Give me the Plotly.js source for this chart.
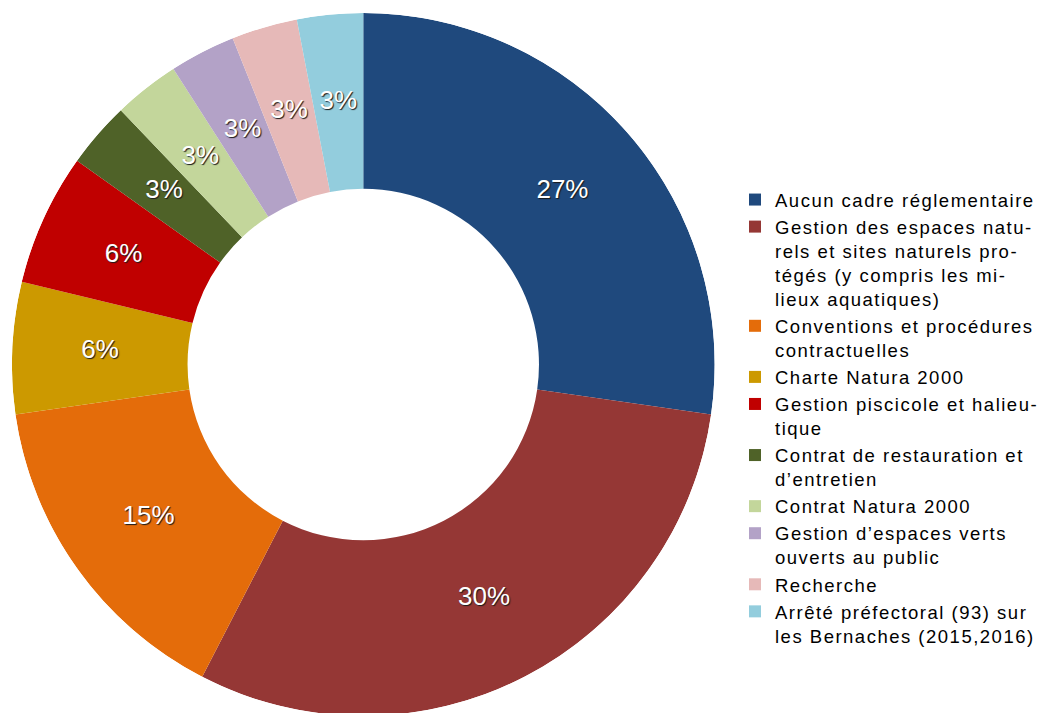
<!DOCTYPE html>
<html>
<head>
<meta charset="utf-8">
<script src="https://cdn.plot.ly/plotly-3.0.1.min.js"></script>
<style>
html,body{margin:0;padding:0;background:#fff;overflow:hidden;}
#chart{width:1044px;height:720px;}
.legendtext{letter-spacing:1.5px;}
</style>
</head>
<body>
<div id="chart"></div>
<script>
const categories = [
  "Aucun cadre réglementaire",
  "Gestion des espaces natu-<br>rels et sites naturels pro-<br>tégés (y compris les mi-<br>lieux aquatiques)",
  "Conventions et procédures<br>contractuelles",
  "Charte Natura 2000",
  "Gestion piscicole et halieu-<br>tique",
  "Contrat de restauration et<br>d’entretien",
  "Contrat Natura 2000",
  "Gestion d’espaces verts<br>ouverts au public",
  "Recherche",
  "Arrêté préfectoral (93) sur<br>les Bernaches (2015,2016)"
];
const counts = [9, 10, 5, 2, 2, 1, 1, 1, 1, 1];
const colors = ["#1f497d", "#953735", "#e46c0a", "#cc9900", "#c00000",
                "#4f6228", "#c3d69b", "#b3a2c7", "#e6b9b8", "#93cddd"];

const domainX = [0.01149, 0.69253];
const domainY = [0, 0.9875];
const holeFrac = 0.5;

// slice geometry derived from the data
const total = counts.reduce((a, b) => a + b, 0);
let cum = 0;
const midTheta = counts.map(v => { const t = (cum + v / 2) / total * 360; cum += v; return t; });
const spanTheta = counts.map(v => v / total * 360);
const pctText = counts.map(v => Math.round(v / total * 100) + "%");

const traces = categories.map((name, i) => ({
  type: "barpolar",
  name: name,
  theta: [midTheta[i]],
  width: [spanTheta[i]],
  base: [holeFrac],
  r: [1 - holeFrac],
  marker: {color: colors[i], line: {width: 0}},
  hovertemplate: name.replace(/<br>/g, " ") + ": " + pctText[i] + "<extra></extra>"
}));

traces.push({
  type: "scatterpolar",
  mode: "text",
  r: counts.map(() => (1 + holeFrac) / 2),
  theta: midTheta,
  text: pctText,
  textposition: "middle center",
  textfont: {family: "Liberation Sans, Arial, sans-serif", size: 26, color: "#ffffff", shadow: "1px 1px 1px #1a1a1a"},
  hoverinfo: "skip",
  showlegend: false
});

const layout = {
  width: 1044,
  height: 720,
  margin: {l: 0, r: 0, t: 0, b: 0},
  paper_bgcolor: "#ffffff",
  showlegend: true,
  polar: {
    domain: {x: domainX, y: domainY},
    bgcolor: "rgba(0,0,0,0)",
    bargap: 0,
    radialaxis: {range: [0, 1], visible: false, showgrid: false, showline: false, ticks: ""},
    angularaxis: {rotation: 90, direction: "clockwise", visible: false, showgrid: false, showline: false, ticks: ""}
  },
  legend: {
    x: 0.7125, xanchor: "left",
    y: 0.4201, yanchor: "middle",
    valign: "top",
    traceorder: "normal",
    font: {family: "Liberation Sans, Arial, sans-serif", size: 18.5, color: "#000000"},
    tracegroupgap: 0,
    itemwidth: 30
  }
};

Plotly.newPlot("chart", traces, layout, {displayModeBar: false, staticPlot: true});
</script>
</body>
</html>
